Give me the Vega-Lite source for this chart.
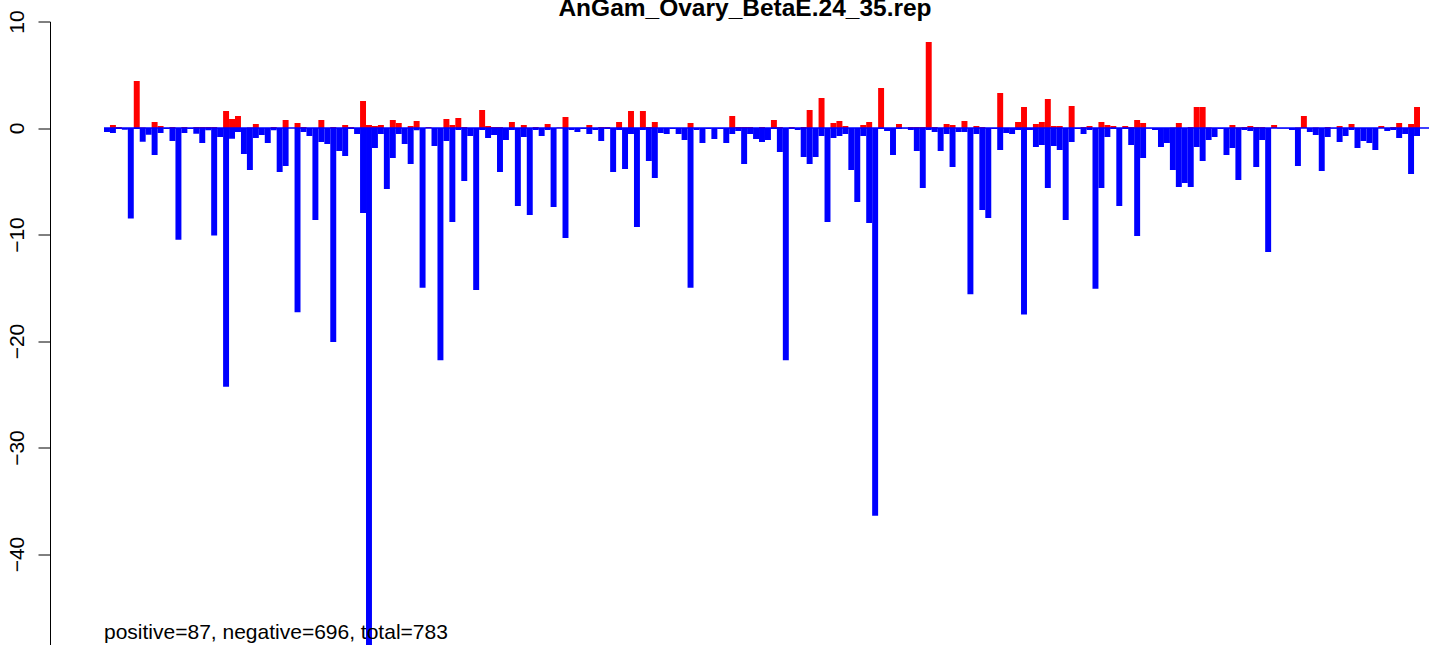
{
  "$schema": "https://vega.github.io/schema/vega-lite/v6.json",
  "autosize": {"type": "none"},
  "width": 1379,
  "height": 623.5,
  "padding": {"left": 50, "top": 21.5, "right": 0, "bottom": 0},
  "background": "white",
  "config": {"view": {"stroke": null}, "font": "Liberation Sans"},
  "title": {"text": "AnGam_Ovary_BetaE.24_35.rep", "font": "Liberation Sans", "fontSize": 24.5, "fontWeight": "bold", "color": "black", "anchor": "middle", "frame": "group", "dx": 5.5, "offset": 0, "dy": 31, "baseline": "alphabetic"},
  "data": {"values": [
{"i":0,"p":0,"n":-0.38},{"i":1,"p":0.28,"n":-0.47},{"i":2,"p":0.1,"n":-0.1},{"i":3,"p":0,"n":-0.16},{"i":4,"p":0,"n":-8.5},
{"i":5,"p":4.41,"n":-0.1},{"i":6,"p":0.05,"n":-1.3},{"i":7,"p":0,"n":-0.63},{"i":8,"p":0.56,"n":-2.53},{"i":9,"p":0.19,"n":-0.47},
{"i":10,"p":0,"n":-0.1},{"i":11,"p":0.1,"n":-1.22},{"i":12,"p":0,"n":-10.5},{"i":13,"p":0.1,"n":-0.47},{"i":14,"p":0,"n":-0.1},
{"i":15,"p":0.1,"n":-0.53},{"i":16,"p":0.1,"n":-1.41},{"i":17,"p":0.1,"n":-0.2},{"i":18,"p":0.1,"n":-10.1},{"i":19,"p":0,"n":-0.85},
{"i":20,"p":1.6,"n":-24.3},{"i":21,"p":0.85,"n":-1.0},{"i":22,"p":1.13,"n":-0.38},{"i":23,"p":0,"n":-2.44},{"i":24,"p":0.05,"n":-3.94},
{"i":25,"p":0.38,"n":-0.94},{"i":26,"p":0,"n":-0.66},{"i":27,"p":0,"n":-1.41},{"i":28,"p":0.1,"n":-0.2},{"i":29,"p":0,"n":-4.13},
{"i":30,"p":0.75,"n":-3.57},{"i":31,"p":0,"n":0},{"i":32,"p":0.47,"n":-17.3},{"i":33,"p":0.1,"n":-0.38},{"i":34,"p":0,"n":-0.75},
{"i":35,"p":0,"n":-8.64},{"i":36,"p":0.75,"n":-1.31},{"i":37,"p":0,"n":-1.5},{"i":38,"p":0.1,"n":-20.1},{"i":39,"p":0,"n":-2.16},
{"i":40,"p":0.28,"n":-2.63},{"i":41,"p":0.1,"n":-0.1},{"i":42,"p":0,"n":-0.56},{"i":43,"p":2.54,"n":-7.98},{"i":44,"p":0.28,"n":-49},
{"i":45,"p":0.19,"n":-1.88},{"i":46,"p":0.28,"n":-0.56},{"i":47,"p":0,"n":-5.73},{"i":48,"p":0.75,"n":-2.82},{"i":49,"p":0.47,"n":-0.56},
{"i":50,"p":0,"n":-1.5},{"i":51,"p":0.19,"n":-3.38},{"i":52,"p":0.66,"n":-0.2},{"i":53,"p":0,"n":-15.0},{"i":54,"p":0.1,"n":0},
{"i":55,"p":0,"n":-1.69},{"i":56,"p":0,"n":-21.8},{"i":57,"p":0.85,"n":-1.22},{"i":58,"p":0.28,"n":-8.83},{"i":59,"p":0.94,"n":-0.19},
{"i":60,"p":0.1,"n":-4.98},{"i":61,"p":0,"n":-0.75},{"i":62,"p":0,"n":-15.2},{"i":63,"p":1.69,"n":-0.19},{"i":64,"p":0.19,"n":-0.94},
{"i":65,"p":0.1,"n":-0.66},{"i":66,"p":0.1,"n":-4.13},{"i":67,"p":0,"n":-1.13},{"i":68,"p":0.56,"n":-0.19},{"i":69,"p":0,"n":-7.32},
{"i":70,"p":0.28,"n":-0.85},{"i":71,"p":0,"n":-8.17},{"i":72,"p":0.1,"n":-0.19},{"i":73,"p":0,"n":-0.75},{"i":74,"p":0.38,"n":-0.19},
{"i":75,"p":0,"n":-7.42},{"i":76,"p":0.05,"n":0},{"i":77,"p":1.03,"n":-10.33},{"i":78,"p":0,"n":-0.19},{"i":79,"p":0,"n":-0.38},
{"i":80,"p":0,"n":-0.1},{"i":81,"p":0.28,"n":-0.56},{"i":82,"p":0,"n":-0.19},{"i":83,"p":0.1,"n":-1.22},{"i":84,"p":0.1,"n":-0.1},
{"i":85,"p":0,"n":-4.13},{"i":86,"p":0.56,"n":-0.19},{"i":87,"p":0,"n":-3.85},{"i":88,"p":1.6,"n":-0.56},{"i":89,"p":0,"n":-9.3},
{"i":90,"p":1.6,"n":-0.19},{"i":91,"p":0.1,"n":-3.1},{"i":92,"p":0.56,"n":-4.7},{"i":93,"p":0,"n":-0.47},{"i":94,"p":0,"n":-0.56},
{"i":95,"p":0,"n":-0.1},{"i":96,"p":0,"n":-0.56},{"i":97,"p":0,"n":-1.13},{"i":98,"p":0.47,"n":-15.0},{"i":99,"p":0,"n":-0.19},
{"i":100,"p":0,"n":-1.41},{"i":101,"p":0,"n":-0.1},{"i":102,"p":0,"n":-1.03},{"i":103,"p":0,"n":-0.1},{"i":104,"p":0,"n":-1.41},
{"i":105,"p":1.13,"n":-0.56},{"i":106,"p":0.1,"n":-0.28},{"i":107,"p":0.1,"n":-3.38},{"i":108,"p":0.1,"n":-0.56},{"i":109,"p":0,"n":-1.03},
{"i":110,"p":0.1,"n":-1.31},{"i":111,"p":0,"n":-1.13},{"i":112,"p":0.75,"n":-0.1},{"i":113,"p":0.1,"n":-2.25},{"i":114,"p":0,"n":-21.8},
{"i":115,"p":0.1,"n":-0.1},{"i":116,"p":0,"n":-0.19},{"i":117,"p":0.1,"n":-2.72},{"i":118,"p":1.69,"n":-3.38},{"i":119,"p":0,"n":-2.72},
{"i":120,"p":2.82,"n":-0.75},{"i":121,"p":0,"n":-8.83},{"i":122,"p":0.47,"n":-0.94},{"i":123,"p":0.66,"n":-0.75},{"i":124,"p":0.19,"n":-0.56},
{"i":125,"p":0,"n":-3.94},{"i":126,"p":0,"n":-6.95},{"i":127,"p":0.28,"n":-0.75},{"i":128,"p":0.56,"n":-8.92},{"i":129,"p":0,"n":-36.4},
{"i":130,"p":3.76,"n":-0.1},{"i":131,"p":0,"n":-0.28},{"i":132,"p":0,"n":-2.54},{"i":133,"p":0.38,"n":-0.1},{"i":134,"p":0,"n":-0.05},
{"i":135,"p":0.1,"n":-0.19},{"i":136,"p":0.1,"n":-2.16},{"i":137,"p":0.1,"n":-5.63},{"i":138,"p":8.08,"n":-0.19},{"i":139,"p":0.1,"n":-0.38},
{"i":140,"p":0,"n":-2.16},{"i":141,"p":0.38,"n":-0.56},{"i":142,"p":0.28,"n":-3.66},{"i":143,"p":0,"n":-0.38},{"i":144,"p":0.66,"n":-0.38},
{"i":145,"p":0,"n":-15.6},{"i":146,"p":0.19,"n":-0.56},{"i":147,"p":0.1,"n":-7.7},{"i":148,"p":0,"n":-8.45},{"i":149,"p":0,"n":-0.1},
{"i":150,"p":3.29,"n":-2.07},{"i":151,"p":0,"n":-0.47},{"i":152,"p":0,"n":-0.56},{"i":153,"p":0.56,"n":-0.19},{"i":154,"p":1.97,"n":-17.5},
{"i":155,"p":0,"n":-0.19},{"i":156,"p":0.38,"n":-1.78},{"i":157,"p":0.56,"n":-1.6},{"i":158,"p":2.72,"n":-5.63},{"i":159,"p":0.19,"n":-1.69},
{"i":160,"p":0.19,"n":-2.07},{"i":161,"p":0,"n":-8.64},{"i":162,"p":2.07,"n":-1.31},{"i":163,"p":0,"n":-0.1},{"i":164,"p":0.1,"n":-0.56},
{"i":165,"p":0.19,"n":-0.19},{"i":166,"p":0,"n":-15.1},{"i":167,"p":0.56,"n":-5.63},{"i":168,"p":0.28,"n":-0.85},{"i":169,"p":0.19,"n":-0.1},
{"i":170,"p":0,"n":-7.32},{"i":171,"p":0.19,"n":-0.1},{"i":172,"p":0.1,"n":-1.6},{"i":173,"p":0.75,"n":-10.14},{"i":174,"p":0.47,"n":-2.82},
{"i":175,"p":0,"n":-0.05},{"i":176,"p":0,"n":-0.19},{"i":177,"p":0,"n":-1.78},{"i":178,"p":0,"n":-1.41},{"i":179,"p":0.05,"n":-3.94},
{"i":180,"p":0.47,"n":-5.54},{"i":181,"p":0,"n":-5.16},{"i":182,"p":0.1,"n":-5.54},{"i":183,"p":1.97,"n":-1.78},{"i":184,"p":1.97,"n":-3.1},
{"i":185,"p":0.05,"n":-1.13},{"i":186,"p":0,"n":-0.85},{"i":187,"p":0,"n":-0.1},{"i":188,"p":0,"n":-2.54},{"i":189,"p":0.28,"n":-1.88},
{"i":190,"p":0.05,"n":-4.88},{"i":191,"p":0.1,"n":-0.19},{"i":192,"p":0.19,"n":-0.28},{"i":193,"p":0.1,"n":-3.66},{"i":194,"p":0.1,"n":-1.13},
{"i":195,"p":0,"n":-11.64},{"i":196,"p":0.28,"n":0},{"i":197,"p":0,"n":-0.05},{"i":198,"p":0,"n":-0.05},{"i":199,"p":0,"n":-0.19},
{"i":200,"p":0.05,"n":-3.57},{"i":201,"p":1.13,"n":0},{"i":202,"p":0,"n":-0.38},{"i":203,"p":0.05,"n":-0.66},{"i":204,"p":0,"n":-4.04},
{"i":205,"p":0.1,"n":-0.85},{"i":206,"p":0,"n":-0.05},{"i":207,"p":0.19,"n":-1.31},{"i":208,"p":0,"n":-0.75},{"i":209,"p":0.38,"n":-0.19},
{"i":210,"p":0,"n":-1.88},{"i":211,"p":0,"n":-1.22},{"i":212,"p":0,"n":-1.41},{"i":213,"p":0,"n":-2.07},{"i":214,"p":0.19,"n":0},
{"i":215,"p":0,"n":-0.28},{"i":216,"p":0.1,"n":-0.19},{"i":217,"p":0.47,"n":-0.94},{"i":218,"p":0,"n":-0.56},{"i":219,"p":0.38,"n":-4.32},
{"i":220,"p":1.97,"n":-0.75}
  ]},
  "encoding": {
    "x": {"field": "i", "type": "ordinal", "axis": null, "scale": {"range": [54, 1370], "paddingInner": 0, "paddingOuter": 0}}
  },
  "layer": [
    {
      "mark": {"type": "bar", "color": "#FF0000", "clip": true},
      "encoding": {
        "y": {"field": "p", "type": "quantitative", "scale": {"domain": [-48.54, 10], "nice": false, "zero": false},
          "axis": {"values": [10, 0, -10, -20, -30, -40, -50], "grid": false, "title": null, "domainColor": "black", "domainWidth": 1, "tickColor": "black", "tickSize": 12, "tickWidth": 1, "labelAngle": -90, "labelAlign": "center", "labelBaseline": "alphabetic", "labelPadding": 15, "labelFontSize": 21, "labelFont": "Liberation Sans", "labelColor": "black", "labelOverlap": false, "labelBound": false, "labelFlush": false}}
      }
    },
    {
      "mark": {"type": "bar", "color": "#0000FF", "clip": true},
      "encoding": {"y": {"field": "n", "type": "quantitative"}}
    },
    {
      "data": {"values": [{"z": 0}]},
      "mark": {"type": "rule", "color": "#0000FF", "strokeWidth": 1.5},
      "encoding": {
        "x": {"datum": 0, "type": "ordinal", "bandPosition": 0},
        "x2": {"value": "width"},
        "y": {"field": "z", "type": "quantitative"}
      }
    },
    {
      "data": {"values": [{"t": "positive=87, negative=696, total=783", "yy": -48}]},
      "mark": {"type": "text", "align": "left", "baseline": "alphabetic", "fontSize": 21, "font": "Liberation Sans", "color": "black"},
      "encoding": {
        "x": {"datum": 0, "type": "ordinal", "bandPosition": 0},
        "y": {"field": "yy", "type": "quantitative"},
        "text": {"field": "t"}
      }
    }
  ]
}
